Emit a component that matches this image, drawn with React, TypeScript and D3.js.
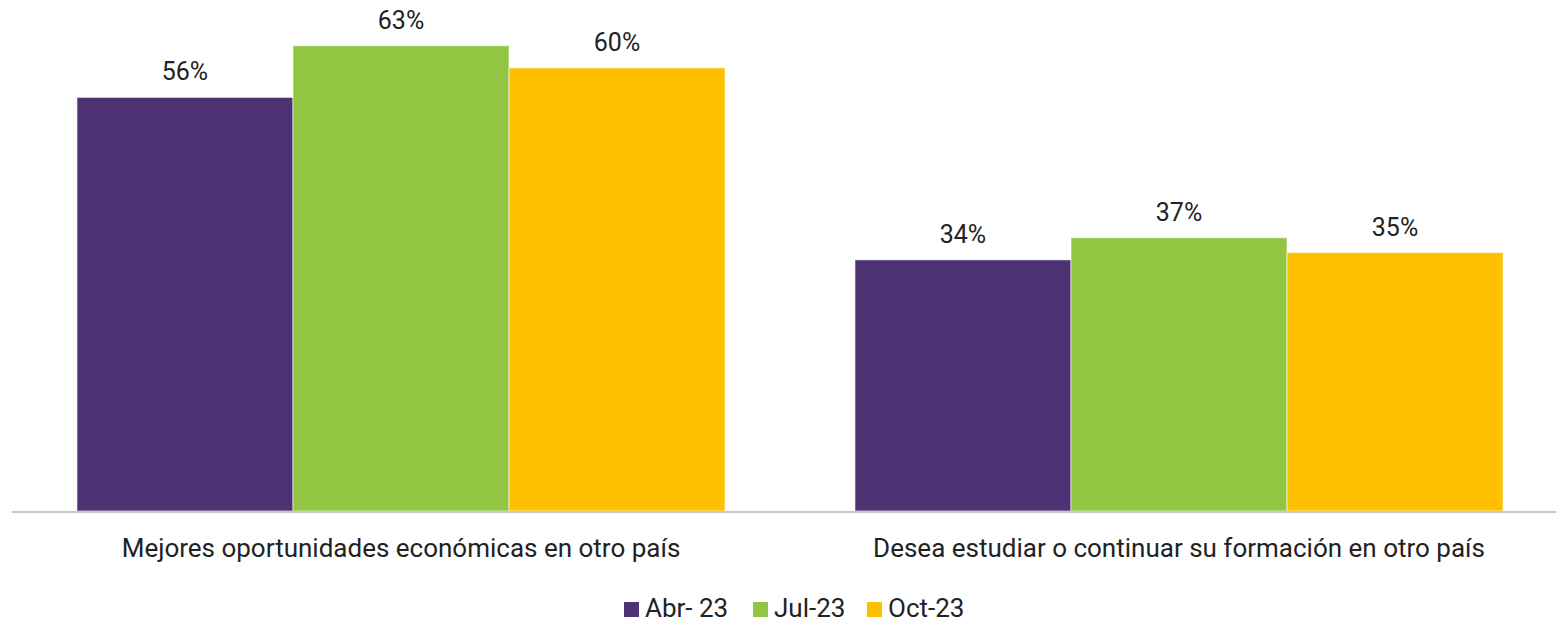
import React from 'react';
import * as d3 from 'd3';

const categories = [
  'Mejores oportunidades económicas en otro país',
  'Desea estudiar o continuar su formación en otro país',
];
const seriesNames = ['Abr- 23', 'Jul-23', 'Oct-23'];
const abr23 = [0.56, 0.34];
const jul23 = [0.63, 0.37];
const oct23 = [0.6, 0.35];
const colors = ['#4f3273', '#92c642', '#ffc000'];

export default function App() {
  const width = 1556;
  const height = 622;
  const baseline = 511;
  const series = [abr23, jul23, oct23];

  const x0 = d3.scaleBand<string>().domain(categories).range([12, 1568]).paddingInner(0.167).paddingOuter(0.0835);
  const x1 = d3.scaleBand<string>().domain(seriesNames).range([0, x0.bandwidth()]);
  const y = d3.scaleLinear().domain([0, 0.7]).range([baseline, -6]);
  const fmt = d3.format('.0%');
  // legend item offsets, from the left of the first swatch
  const legendOffsets = [0, 129, 243];

  return (
    <svg width={width} height={height} style={{ position: 'absolute', left: 0, top: 0, fontFamily: 'Roboto, sans-serif' }}>
      <rect width={width} height={height} fill="#fff" />
      {categories.map((c, ci) => (
        <g key={c} transform={`translate(${x0(c)},0)`}>
          {seriesNames.map((s, si) => {
            const v = series[si][ci];
            const bx = x1(s)!;
            return (
              <g key={s}>
                <rect x={bx} y={y(v)} width={x1.bandwidth()} height={baseline - y(v)} fill={colors[si]} stroke="#fff" strokeOpacity={0.6} strokeWidth={1} />
                <text x={bx + x1.bandwidth() / 2} y={y(v) - 17} textAnchor="middle" fontSize={25} fill="#222">
                  {fmt(v)}
                </text>
              </g>
            );
          })}
          <text x={x0.bandwidth() / 2} y={557} textAnchor="middle" fontSize={26} fill="#222">
            {c}
          </text>
        </g>
      ))}
      <line x1={12} x2={width} y1={baseline + 1} y2={baseline + 1} stroke="#c8c8c8" strokeWidth={2} />
      <g transform="translate(624,601)">
        {seriesNames.map((s, i) => (
          <g key={s} transform={`translate(${legendOffsets[i]},0)`}>
            <rect width={15} height={15} y={1} fill={colors[i]} />
            <text x={21} y={16} fontSize={26} fill="#222">
              {s}
            </text>
          </g>
        ))}
      </g>
    </svg>
  );
}
